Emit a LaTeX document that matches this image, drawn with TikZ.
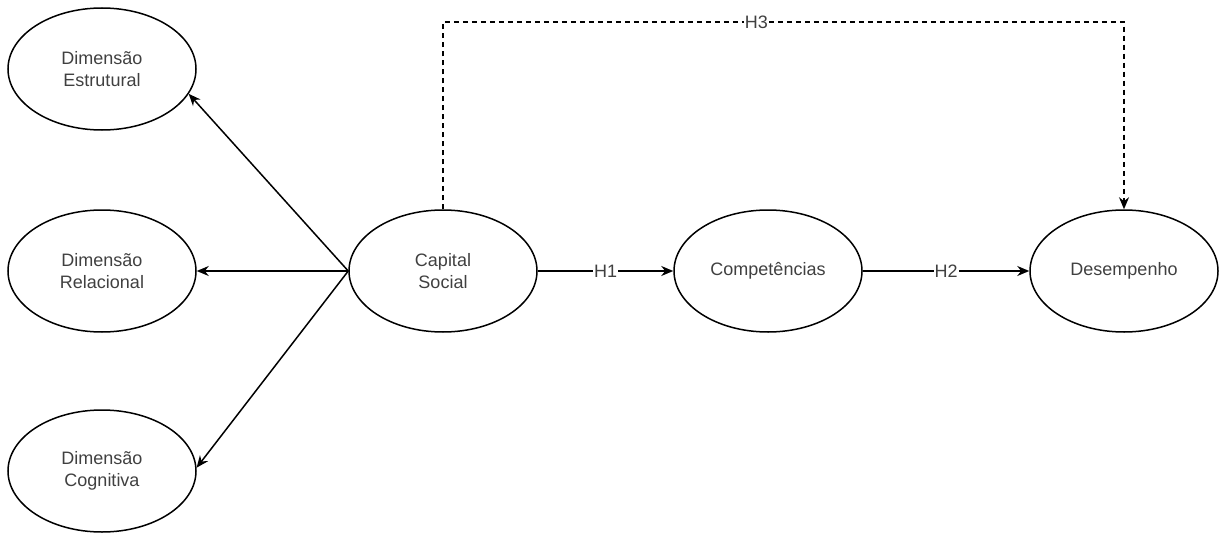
\documentclass[tikz,border=0pt]{standalone}
\usepackage{fontspec}
\setmainfont{Liberation Sans}
\usetikzlibrary{shapes.geometric,arrows.meta}
\begin{document}
\begin{tikzpicture}[x=1pt,y=-1pt,
  construct/.style={draw=black, line width=1.5pt, ellipse, minimum width=188pt, minimum height=122pt,
    inner sep=0pt, align=center, font=\fontsize{18}{22.5}\selectfont, text=black!75},
  link/.style={draw=black, line width=1.5pt, -{Stealth[length=12pt,width=10pt]}},
  hyp/.style={fill=white, inner sep=1pt, font=\fontsize{18}{22}\selectfont, text=black!75}]
  \useasboundingbox (0,0) rectangle (1220,535);

  % constructs
  \node[construct] (de) at (102,69)  {Dimensão\\Estrutural};
  \node[construct] (dr) at (102,271) {Dimensão\\Relacional};
  \node[construct] (dc) at (102,471) {Dimensão\\Cognitiva};
  \node[construct] (cs) at (443,271) {Capital\\Social};
  \node[construct] (co) at (768,271) {Competências};
  \node[construct] (dp) at (1124,271) {Desempenho};

  % dimensions of social capital
  \draw[link] (cs.west) -- (de.-16);
  \draw[link] (cs.west) -- (dr.east);
  \draw[link] (cs.west) -- (dc.2);

  % hypotheses
  \draw[link] (cs.east) -- node[hyp]{H1} (co.west);
  \draw[link] (co.east) -- node[hyp]{H2} (dp.west);
  \draw[link, dash pattern=on 5pt off 4pt]
    (cs.north) -- (443,22) -- node[hyp, pos=0.46]{H3} (1124,22) -- (dp.north);
\end{tikzpicture}
\end{document}
